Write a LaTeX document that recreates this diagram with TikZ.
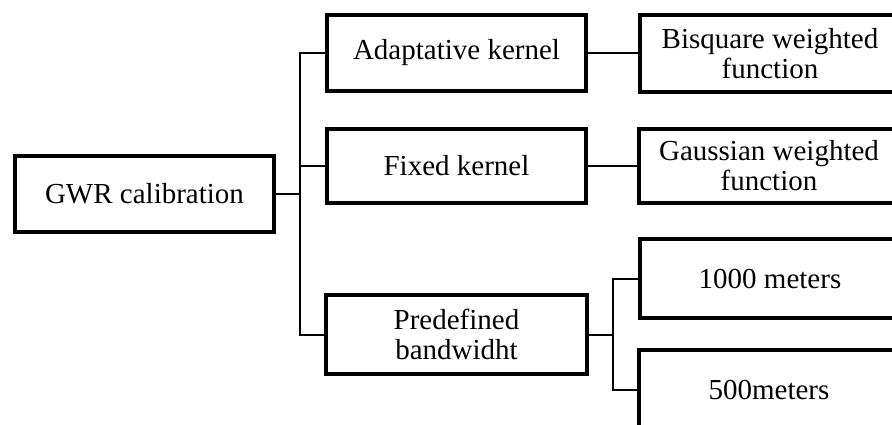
\documentclass[tikz,border=0pt]{standalone}
\usepackage{fontspec}
\setmainfont{Liberation Serif}
\begin{document}
\begin{tikzpicture}[x=1pt,y=-1pt,
  every node/.style={font=\fontsize{29}{30}\selectfont},
  box/.style={draw, line width=4pt, rectangle, inner sep=0pt, outer sep=0pt,
              minimum height=76pt, align=center},
  link/.style={line width=2pt}]
\clip (0,0) rectangle (892,425);
\fill[white] (0,0) rectangle (892,425);
% main boxes
\node[box, minimum width=259pt] (gwr) at (144.5,194) {GWR calibration};
\node[box, minimum width=259pt] (ak) at (456.5,53) {Adaptative kernel};
\node[box, minimum width=259pt, minimum height=74pt] (fk) at (456.5,166) {Fixed kernel};
\node[box, minimum width=261pt, minimum height=79pt] (pb) at (456.5,334.5) {Predefined\\bandwidht};
% right boxes (cut by the edge)
\node[box, minimum width=260pt, minimum height=77pt] (bw) at (770,53.5) {Bisquare weighted\\function};
\node[box, minimum width=260pt, minimum height=74pt] (gw) at (769,166) {Gaussian weighted\\function};
\node[box, minimum width=260pt, minimum height=79pt] (m1) at (770,278.5) {1000 meters};
\node[box, minimum width=260pt, minimum height=79pt] (m2) at (769,389.5) {500meters};
% connectors
\coordinate (t) at (300,194);
\coordinate (s) at (613,334.5);
\draw[link] (gwr.east) -- (t);
\draw[link] (t) |- (ak.west);
\draw[link] (t) |- (fk.west);
\draw[link] (t) |- (pb.west);
\draw[link] (ak.east) -- (bw.west |- ak.east);
\draw[link] (fk.east) -- (gw.west |- fk.east);
\draw[link] (pb.east) -- (s);
\draw[link] (s) |- (m1.west);
\draw[link] (s) |- (m2.west);
\end{tikzpicture}
\end{document}
